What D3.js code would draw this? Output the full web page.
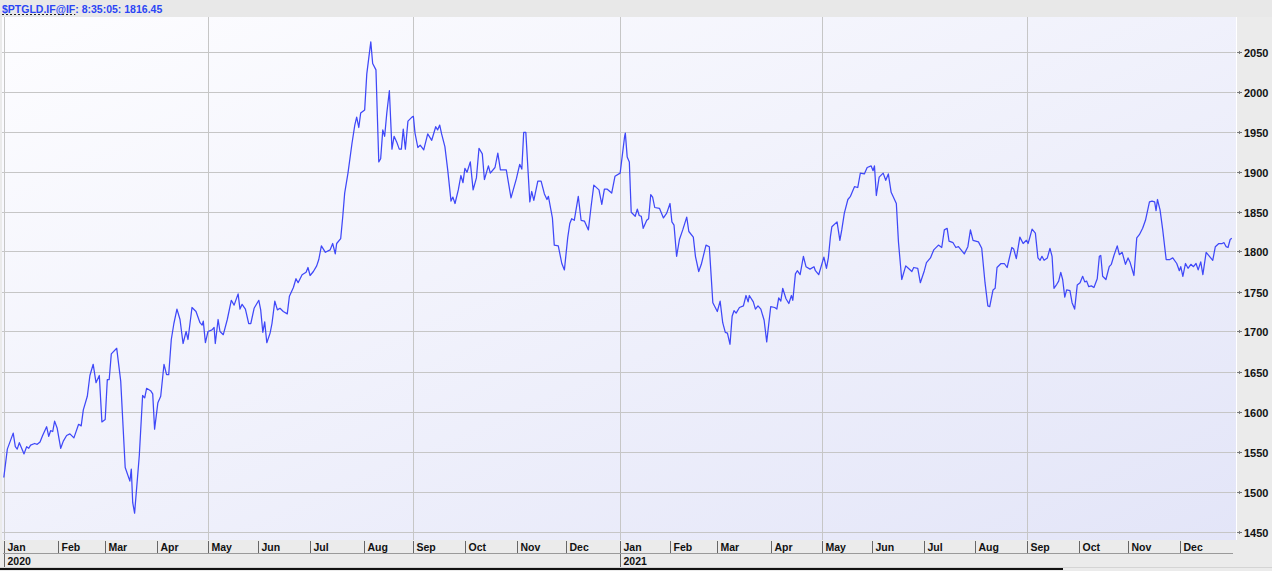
<!DOCTYPE html>
<html><head><meta charset="utf-8">
<script src="https://cdn.jsdelivr.net/npm/d3@7"></script>
<style>body{margin:0;background:#ebebeb;overflow:hidden}svg{display:block}</style>
</head><body><svg id="c" width="1272" height="571"></svg>
<script>
const symbol = "$PTGLD.IF@IF";
const stamp = "8:35:05";
const lastPrice = "1816.45";
const startDate = new Date(2020, 0, 1), endDate = new Date(2022, 0, 1);
const yTicks = [1450,1500,1550,1600,1650,1700,1750,1800,1850,1900,1950,2000,2050];
const monthNames = ["Jan","Feb","Mar","Apr","May","Jun","Jul","Aug","Sep","Oct","Nov","Dec"];
// [trading day index since 2020-01-01, price]
const goldSeries = [[0,1517.5],[1.5,1553],[4,1573],[4.9,1556],[5.7,1553],[6.6,1561],[8.6,1547],[9.7,1556],[10.6,1554],[11.4,1558],[13.1,1560],[14.2,1559],[15.4,1562],[16.5,1570],[18.2,1581],[19.1,1569],[19.9,1576],[20.8,1575],[21.6,1588],[22.7,1579],[24.2,1554],[25.3,1563],[26.7,1570],[28.1,1572],[29.8,1567],[31.8,1584],[32.9,1582],[33.8,1602],[35.5,1619],[36.6,1645],[38,1659],[39.2,1636],[40.6,1645],[41.7,1587],[43.1,1590],[44,1640],[44.8,1640],[45.7,1672],[48,1679],[49.7,1638],[51.6,1530],[53.6,1513],[54.2,1528],[54.8,1486],[55.6,1473],[57.6,1545],[59,1620],[59.9,1617],[60.7,1629],[62.4,1626],[63.3,1622],[64.1,1578],[65.5,1611],[66.7,1619],[68.1,1659],[69.2,1646],[70.1,1646],[71.2,1690],[72.3,1710],[73.6,1728],[74.9,1715],[76.2,1685],[77.5,1700],[78.3,1690],[80,1730],[81.7,1725],[83.4,1711],[84.3,1708],[84.8,1713],[85.7,1686],[86.8,1700],[88.5,1702],[89.4,1705],[89.9,1685],[91.1,1715],[91.9,1700],[93.3,1696],[95,1715],[96.7,1739],[97.9,1733],[99.6,1747],[100.4,1728],[101.3,1734],[102.7,1728],[104.1,1710],[105,1710],[106.4,1729],[108.4,1739],[109.2,1727],[110.1,1699],[110.9,1712],[111.8,1686],[113.2,1698],[114,1710],[115.2,1738],[116.3,1727],[117.4,1729],[118.8,1725],[120.5,1722],[121.4,1744],[123.1,1755],[124.2,1766],[125.1,1761],[126.8,1771],[128.5,1774],[129.3,1780],[130.2,1770],[131.6,1775],[133,1782],[133.9,1790],[135,1807],[136.7,1799],[138.7,1802],[139.8,1810],[140.9,1797],[141.5,1810],[143.2,1816],[144.1,1844],[144.9,1873],[146.3,1898],[148,1935],[149.2,1958],[150,1968],[150.9,1955],[151.7,1973],[153.4,1977],[154.3,2022],[156,2062],[156.8,2035],[158.2,2027],[159.4,1912],[160.2,1916],[161.1,1952],[161.9,1944],[162.8,1973],[163.9,2001],[165,1928],[165.9,1944],[167,1937],[168.1,1928],[169,1928],[169.8,1953],[170.7,1928],[171.8,1963],[173.5,1968],[174.1,1969],[174.8,1948],[176,1930],[177,1933],[178.5,1927],[180.2,1947],[181.9,1939],[183.6,1956],[184.4,1952],[185.3,1958],[186.1,1947],[187.5,1931],[188.7,1902],[190.1,1863],[190.9,1868],[191.8,1860],[193.2,1877],[194.3,1895],[195.2,1886],[196,1904],[196.9,1899],[198.3,1912],[199.5,1877],[200.9,1892],[202,1929],[203.4,1922],[204.3,1890],[206,1907],[206.8,1898],[208.8,1905],[210,1923],[211.1,1902],[213.6,1902],[215.6,1867],[217.9,1891],[219.3,1909],[220.2,1903],[221,1949],[221.9,1949],[223.6,1862],[224.4,1875],[225.3,1864],[227,1888],[228.4,1888],[229.8,1872],[230.9,1865],[231.5,1869],[233.2,1842],[234,1808],[235.7,1807],[237.2,1785],[238.3,1777],[239.7,1817],[240.6,1835],[241.4,1841],[242.5,1839],[244.2,1869],[245.4,1839],[246.8,1838],[248.5,1827],[249.6,1855],[250.8,1883],[253,1877],[254.2,1859],[255.3,1878],[256.4,1878],[258.4,1873],[259.8,1894],[262,1898],[263.9,1944],[264.2,1948],[265,1918],[265.9,1912],[266.7,1849],[268.4,1844],[269.3,1853],[270.1,1845],[271,1844],[271.8,1829],[273.3,1839],[274.1,1841],[275,1871],[275.8,1868],[276.7,1855],[278.7,1854],[280.4,1842],[281.8,1848],[283.2,1860],[284,1837],[284.9,1833],[286,1794],[287.2,1815],[288.6,1827],[290.3,1843],[291.2,1825],[293.1,1818],[294,1794],[295.4,1775],[296.5,1784],[298.5,1808],[299.9,1806],[301.4,1736],[303.3,1725],[304.5,1738],[305.6,1711],[306.7,1699],[307.6,1698],[308.7,1684],[309.6,1719],[310.4,1726],[311.3,1723],[312.7,1730],[314.4,1732],[315.5,1745],[316.4,1737],[316.9,1745],[318.6,1737],[319.5,1728],[320.6,1732],[321.8,1728],[323.2,1714],[324.3,1687],[326,1731],[327.7,1730],[328.6,1728],[329.4,1742],[330.3,1738],[331.1,1754],[332.5,1741],[333.7,1735],[334.8,1745],[335.4,1739],[336.5,1772],[337.3,1776],[338.5,1771],[339.9,1794],[341,1781],[342.7,1778],[344.4,1781],[345,1776],[346.4,1771],[348.6,1793],[349.7,1779],[350.5,1792],[351.4,1819],[352,1831],[354.2,1837],[355.4,1814],[356.2,1827],[357.3,1848],[358.8,1865],[359.9,1869],[361.6,1881],[363,1880],[364.1,1898],[365.8,1897],[367,1905],[368.7,1907],[369.5,1901],[370.1,1907],[370.9,1870],[372.1,1893],[373.8,1898],[374.9,1889],[376,1897],[377.2,1874],[379.4,1860],[380.3,1812],[381.7,1765],[383.4,1782],[384.5,1779],[386,1775],[386.8,1780],[388.5,1779],[389.6,1761],[391.3,1776],[392.2,1786],[393.9,1792],[395.3,1802],[397.3,1808],[398.7,1805],[399.8,1827],[401,1829],[401.8,1813],[403.5,1811],[404.7,1805],[405.8,1806],[408.3,1797],[409.8,1806],[410.9,1827],[412,1814],[414.3,1812],[415.7,1804],[417.1,1761],[418.3,1732],[419.1,1731],[420.5,1752],[421.4,1754],[422.2,1780],[423.9,1785],[425.3,1785],[426.5,1780],[428.5,1805],[429.3,1803],[430.4,1791],[431.9,1818],[433.3,1810],[434.7,1814],[435.4,1810],[435.9,1815],[437.1,1828],[438.5,1823],[439.6,1792],[440.5,1789],[441.3,1794],[442.2,1789],[443.6,1792],[444.7,1804],[445.6,1794],[446.4,1754],[447.6,1759],[448.4,1763],[449.3,1774],[450.1,1765],[451,1743],[451.8,1752],[453.2,1751],[454.1,1736],[455.2,1728],[456.3,1758],[457.5,1761],[458.6,1769],[459.5,1762],[460.3,1763],[461.2,1756],[462.3,1757],[463.4,1755],[464.8,1766],[465.7,1794],[466.3,1795],[467.1,1769],[468.5,1765],[469.9,1781],[470.8,1784],[471.9,1795],[473.3,1807],[474.2,1796],[475.4,1799],[476.8,1784],[477.9,1792],[478.7,1787],[480.4,1770],[481.6,1817],[482.7,1821],[484.1,1829],[485.3,1839],[487,1862],[488.1,1863],[489.2,1862],[489.8,1851],[490.4,1865],[491.5,1852],[492.6,1828],[494.1,1790],[495.7,1790],[496.9,1792],[498.6,1785],[499.7,1776],[500.3,1781],[501.2,1769],[502.3,1785],[503.4,1779],[504.6,1784],[505.7,1781],[506.8,1785],[507.7,1777],[508.8,1787],[509.7,1771],[511.1,1799],[512.5,1794],[513.9,1789],[515,1806],[516.5,1810],[517.9,1810],[518.7,1811],[519.6,1806],[520.4,1805],[521.3,1815],[522,1816.45]];

const svg = d3.select("#c");
const W = 1272, H = 571;
const plot = {l: 2, t: 17, r: 1236, b: 540};

// trading days (weekdays)
const days = d3.timeDay.range(startDate, endDate).filter(d => d.getDay() % 6 !== 0);
const monthStarts = [];
days.forEach((d, i) => { if (i === 0 || d.getMonth() !== days[i-1].getMonth()) monthStarts.push({i, d}); });

const x = d3.scaleLinear().domain([0, days.length - 1]).range([3.8, 1231.8]);
const y = d3.scaleLinear().domain([1450, 2050]).range([531.5, 51.5]);

const defs = svg.append("defs");
const g = defs.append("linearGradient").attr("id", "bg").attr("x1", 0).attr("y1", 0).attr("x2", 1).attr("y2", 1);
g.append("stop").attr("offset", 0).attr("stop-color", "#fdfdff");
g.append("stop").attr("offset", 1).attr("stop-color", "#e3e5f8");
defs.append("clipPath").attr("id", "clip").append("rect")
  .attr("x", plot.l).attr("y", plot.t).attr("width", plot.r - plot.l).attr("height", plot.b - plot.t);

// title bar
svg.append("rect").attr("x", 0).attr("y", 0).attr("width", W).attr("height", plot.t).attr("fill", "#e8e8e8");

// plot background
svg.append("rect").attr("x", plot.l).attr("y", plot.t).attr("width", plot.r - plot.l).attr("height", plot.b - plot.t)
  .attr("fill", "url(#bg)");

// horizontal grid
svg.append("g").selectAll("line").data(yTicks).join("line")
  .attr("x1", plot.l).attr("x2", plot.r)
  .attr("y1", d => Math.round(y(d)) + 0.5).attr("y2", d => Math.round(y(d)) + 0.5)
  .attr("stroke", "#c6c6c6").attr("stroke-width", 1);

// vertical grid every 4 months
svg.append("g").selectAll("line").data(monthStarts.filter((m, k) => k % 4 === 0)).join("line")
  .attr("x1", d => Math.round(x(d.i)) + 0.5).attr("x2", d => Math.round(x(d.i)) + 0.5)
  .attr("y1", plot.t).attr("y2", plot.b)
  .attr("stroke", "#c6c6c6").attr("stroke-width", 1);

// plot right white edge
svg.append("line").attr("x1", plot.r + 0.5).attr("x2", plot.r + 0.5).attr("y1", plot.t).attr("y2", plot.b)
  .attr("stroke", "#ffffff");

// price line
svg.append("path").datum(goldSeries)
  .attr("clip-path", "url(#clip)")
  .attr("fill", "none").attr("stroke", "#3f48f8").attr("stroke-width", 1.25).attr("stroke-linejoin", "round")
  .attr("d", d3.line().x(d => x(d[0])).y(d => y(d[1])));

// right axis
const ya = svg.append("g");
yTicks.forEach(v => {
  const yy = Math.round(y(v)) + 0.5;
  ya.append("line").attr("x1", 1237).attr("x2", 1242).attr("y1", yy).attr("y2", yy).attr("stroke", "#777");
  ya.append("line").attr("x1", 1239.5).attr("x2", 1239.5).attr("y1", yy - 1.5).attr("y2", yy + 1.5).attr("stroke", "#777");
  ya.append("text").attr("x", 1244).attr("y", yy + 4)
    .attr("font-family", "Liberation Sans, Arial, sans-serif").attr("font-weight", "bold").attr("font-size", 11)
    .attr("fill", "#111").text(v);
});

// month axis
const xa = svg.append("g").attr("font-family", "Liberation Sans, Arial, sans-serif").attr("font-weight", "bold").attr("font-size", 10.5).attr("fill", "#111");
xa.append("line").attr("x1", 3).attr("x2", 1233).attr("y1", 553.5).attr("y2", 553.5).attr("stroke", "#9a9a9a");
monthStarts.forEach(m => {
  const xx = Math.round(x(m.i)) + 0.5;
  xa.append("line").attr("x1", xx).attr("x2", xx).attr("y1", 541).attr("y2", 553).attr("stroke", "#666");
  xa.append("text").attr("x", xx + 3).attr("y", 551).text(monthNames[m.d.getMonth()]);
  if (m.d.getMonth() === 0) {
    xa.append("line").attr("x1", xx).attr("x2", xx).attr("y1", 554).attr("y2", 567).attr("stroke", "#666");
    xa.append("text").attr("x", xx + 3).attr("y", 565).text(m.d.getFullYear());
  }
});
// bottom scroll line
svg.append("line").attr("x1", 0).attr("x2", W).attr("y1", 567.5).attr("y2", 567.5).attr("stroke", "#d4d4d4");
svg.append("rect").attr("x", 0).attr("y", 568).attr("width", 1063).attr("height", 2).attr("fill", "#111");

// title
const t = svg.append("text").attr("x", 2).attr("y", 12.5)
  .attr("font-family", "Liberation Sans, Arial, sans-serif").attr("font-weight", "bold").attr("font-size", 10.5)
  .attr("fill", "#2a45f5");
t.append("tspan").attr("id", "sym").text(symbol);
t.append("tspan").text(": " + stamp + ": " + lastPrice);
const symW = t.select("#sym").node().getComputedTextLength();
svg.append("line").attr("x1", 2).attr("x2", 2 + symW).attr("y1", 14.5).attr("y2", 14.5)
  .attr("stroke", "#222").attr("stroke-dasharray", "2,2");
</script></body></html>
